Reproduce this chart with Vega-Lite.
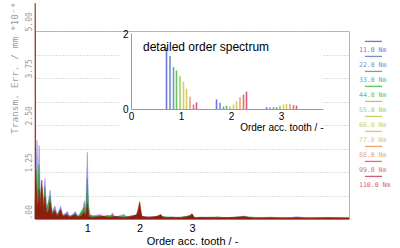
{
  "$schema": "https://vega.github.io/schema/vega-lite/v6.json",
  "width": 314,
  "height": 188,
  "autosize": {"type": "none"},
  "padding": {"left": 35, "top": 31, "right": 51, "bottom": 29},
  "background": "white",
  "config": {
    "view": {"stroke": "#b4b4b4", "strokeWidth": 1},
    "axis": {"labelFont": "Liberation Sans", "titleFont": "Liberation Sans"}
  },
  "datasets": {
    "spectrum": [
      {"s":"p","o":0,"v":0.3},{"s":"p","o":0.02,"v":1.2},{"s":"p","o":0.04,"v":2.09},{"s":"p","o":0.055,"v":0.7},{"s":"p","o":0.08,"v":1.96},{"s":"p","o":0.1,"v":0.6},{"s":"p","o":0.13,"v":0.9},{"s":"p","o":0.16,"v":0.45},{"s":"p","o":0.19,"v":1.08},{"s":"p","o":0.22,"v":0.3},{"s":"p","o":0.25,"v":0.4},{"s":"p","o":0.29,"v":0.77},{"s":"p","o":0.32,"v":0.2},{"s":"p","o":0.36,"v":0.3},{"s":"p","o":0.38,"v":0.35},{"s":"p","o":0.42,"v":0.12},{"s":"p","o":0.45,"v":0.2},{"s":"p","o":0.49,"v":0.34},{"s":"p","o":0.53,"v":0.1},{"s":"p","o":0.58,"v":0.15},{"s":"p","o":0.62,"v":0.2},{"s":"p","o":0.66,"v":0.08},{"s":"p","o":0.72,"v":0.12},{"s":"p","o":0.77,"v":0.2},{"s":"p","o":0.82,"v":0.08},{"s":"p","o":0.87,"v":0.1},{"s":"p","o":0.9,"v":0.12},{"s":"p","o":0.94,"v":0.48},{"s":"p","o":0.97,"v":0.3},{"s":"p","o":1.0,"v":1.77},{"s":"p","o":1.02,"v":0.4},{"s":"p","o":1.05,"v":0.12},{"s":"p","o":1.1,"v":0.08},{"s":"p","o":1.17,"v":0.1},{"s":"p","o":1.25,"v":0.12},{"s":"p","o":1.3,"v":0.05},{"s":"p","o":1.38,"v":0.1},{"s":"p","o":1.44,"v":0.06},{"s":"p","o":1.48,"v":0.16},{"s":"p","o":1.52,"v":0.05},{"s":"p","o":1.6,"v":0.08},{"s":"p","o":1.7,"v":0.12},{"s":"p","o":1.76,"v":0.05},{"s":"p","o":1.85,"v":0.1},{"s":"p","o":1.92,"v":0.08},{"s":"p","o":1.96,"v":0.2},{"s":"p","o":2.0,"v":0.3},{"s":"p","o":2.03,"v":0.1},{"s":"p","o":2.1,"v":0.04},{"s":"p","o":2.2,"v":0.07},{"s":"p","o":2.3,"v":0.05},{"s":"p","o":2.4,"v":0.1},{"s":"p","o":2.47,"v":0.03},{"s":"p","o":2.6,"v":0.06},{"s":"p","o":2.75,"v":0.04},{"s":"p","o":2.9,"v":0.07},{"s":"p","o":3.0,"v":0.12},{"s":"p","o":3.05,"v":0.04},{"s":"p","o":3.2,"v":0.05},{"s":"p","o":3.35,"v":0.03},{"s":"p","o":3.5,"v":0.06},{"s":"p","o":3.65,"v":0.03},{"s":"p","o":3.8,"v":0.04},{"s":"p","o":4.0,"v":0.08},{"s":"p","o":4.1,"v":0.03},{"s":"p","o":4.3,"v":0.04},{"s":"p","o":4.5,"v":0.05},{"s":"p","o":4.7,"v":0.03},{"s":"p","o":4.9,"v":0.04},{"s":"p","o":5.0,"v":0.06},{"s":"p","o":5.2,"v":0.03},{"s":"p","o":5.4,"v":0.04},{"s":"p","o":5.6,"v":0.03},{"s":"p","o":5.8,"v":0.04},{"s":"p","o":6.0,"v":0.03},
      {"s":"g","o":0,"v":0.3},{"s":"g","o":0.025,"v":1.3},{"s":"g","o":0.045,"v":0.6},{"s":"g","o":0.075,"v":1.45},{"s":"g","o":0.1,"v":0.5},{"s":"g","o":0.13,"v":0.8},{"s":"g","o":0.16,"v":0.35},{"s":"g","o":0.19,"v":0.85},{"s":"g","o":0.22,"v":0.25},{"s":"g","o":0.29,"v":0.62},{"s":"g","o":0.32,"v":0.15},{"s":"g","o":0.38,"v":0.25},{"s":"g","o":0.42,"v":0.1},{"s":"g","o":0.49,"v":0.26},{"s":"g","o":0.53,"v":0.08},{"s":"g","o":0.62,"v":0.12},{"s":"g","o":0.66,"v":0.06},{"s":"g","o":0.77,"v":0.14},{"s":"g","o":0.82,"v":0.06},{"s":"g","o":0.94,"v":0.32},{"s":"g","o":0.97,"v":0.15},{"s":"g","o":1.0,"v":1.08},{"s":"g","o":1.03,"v":0.1},{"s":"g","o":1.2,"v":0.06},{"s":"g","o":1.35,"v":0.08},{"s":"g","o":1.5,"v":0.1},{"s":"g","o":1.55,"v":0.04},{"s":"g","o":1.7,"v":0.07},{"s":"g","o":1.85,"v":0.06},{"s":"g","o":1.95,"v":0.12},{"s":"g","o":2.0,"v":0.28},{"s":"g","o":2.04,"v":0.06},{"s":"g","o":2.2,"v":0.04},{"s":"g","o":2.4,"v":0.08},{"s":"g","o":2.6,"v":0.04},{"s":"g","o":2.8,"v":0.05},{"s":"g","o":3.0,"v":0.1},{"s":"g","o":3.05,"v":0.04},{"s":"g","o":3.4,"v":0.05},{"s":"g","o":3.7,"v":0.03},{"s":"g","o":4.0,"v":0.06},{"s":"g","o":4.4,"v":0.03},{"s":"g","o":4.8,"v":0.04},{"s":"g","o":5.2,"v":0.03},{"s":"g","o":5.6,"v":0.04},{"s":"g","o":6.0,"v":0.03},
      {"s":"r","o":0,"v":5.74},{"s":"r","o":0.006,"v":5.74},{"s":"r","o":0.012,"v":1.2},{"s":"r","o":0.03,"v":0.7},{"s":"r","o":0.045,"v":0.35},{"s":"r","o":0.065,"v":0.5},{"s":"r","o":0.08,"v":0.8},{"s":"r","o":0.1,"v":0.3},{"s":"r","o":0.13,"v":1.03},{"s":"r","o":0.16,"v":0.22},{"s":"r","o":0.19,"v":0.6},{"s":"r","o":0.22,"v":0.16},{"s":"r","o":0.26,"v":0.22},{"s":"r","o":0.29,"v":0.45},{"s":"r","o":0.33,"v":0.12},{"s":"r","o":0.38,"v":0.22},{"s":"r","o":0.42,"v":0.08},{"s":"r","o":0.46,"v":0.15},{"s":"r","o":0.49,"v":0.25},{"s":"r","o":0.53,"v":0.07},{"s":"r","o":0.6,"v":0.12},{"s":"r","o":0.66,"v":0.05},{"s":"r","o":0.72,"v":0.08},{"s":"r","o":0.77,"v":0.12},{"s":"r","o":0.82,"v":0.05},{"s":"r","o":0.88,"v":0.08},{"s":"r","o":0.94,"v":0.18},{"s":"r","o":0.97,"v":0.08},{"s":"r","o":1.0,"v":0.42},{"s":"r","o":1.03,"v":0.06},{"s":"r","o":1.1,"v":0.04},{"s":"r","o":1.2,"v":0.06},{"s":"r","o":1.3,"v":0.08},{"s":"r","o":1.4,"v":0.04},{"s":"r","o":1.55,"v":0.07},{"s":"r","o":1.7,"v":0.03},{"s":"r","o":1.85,"v":0.07},{"s":"r","o":1.95,"v":0.12},{"s":"r","o":2.0,"v":0.46},{"s":"r","o":2.04,"v":0.07},{"s":"r","o":2.2,"v":0.04},{"s":"r","o":2.35,"v":0.08},{"s":"r","o":2.4,"v":0.12},{"s":"r","o":2.45,"v":0.03},{"s":"r","o":2.6,"v":0.04},{"s":"r","o":2.8,"v":0.03},{"s":"r","o":2.95,"v":0.07},{"s":"r","o":3.0,"v":0.14},{"s":"r","o":3.05,"v":0.03},{"s":"r","o":3.2,"v":0.04},{"s":"r","o":3.5,"v":0.03},{"s":"r","o":3.7,"v":0.04},{"s":"r","o":4.0,"v":0.06},{"s":"r","o":4.2,"v":0.02},{"s":"r","o":4.5,"v":0.03},{"s":"r","o":4.8,"v":0.02},{"s":"r","o":5.0,"v":0.03},{"s":"r","o":5.3,"v":0.02},{"s":"r","o":5.6,"v":0.03},{"s":"r","o":6.0,"v":0.02}
    ],
    "orders": [
      {"t":"11.0 Nm","o":0.71,"v":1.65},{"t":"22.0 Nm","o":0.78,"v":1.43},{"t":"33.0 Nm","o":0.85,"v":1.13},{"t":"44.0 Nm","o":0.91,"v":1.04},{"t":"55.0 Nm","o":0.98,"v":0.9},{"t":"66.0 Nm","o":1.05,"v":0.74},{"t":"77.0 Nm","o":1.11,"v":0.55},{"t":"88.0 Nm","o":1.18,"v":0.33},{"t":"99.0 Nm","o":1.25,"v":0.12},{"t":"110.0 Nm","o":1.31,"v":0.18},
      {"t":"11.0 Nm","o":1.71,"v":0.26},{"t":"22.0 Nm","o":1.78,"v":0.17},{"t":"33.0 Nm","o":1.85,"v":0.07},{"t":"44.0 Nm","o":1.91,"v":0.09},{"t":"55.0 Nm","o":1.98,"v":0.07},{"t":"66.0 Nm","o":2.05,"v":0.12},{"t":"77.0 Nm","o":2.11,"v":0.21},{"t":"88.0 Nm","o":2.18,"v":0.32},{"t":"99.0 Nm","o":2.25,"v":0.39},{"t":"110.0 Nm","o":2.31,"v":0.47},
      {"t":"11.0 Nm","o":2.71,"v":0.05},{"t":"22.0 Nm","o":2.78,"v":0.04},{"t":"33.0 Nm","o":2.85,"v":0.05},{"t":"44.0 Nm","o":2.91,"v":0.05},{"t":"55.0 Nm","o":2.98,"v":0.09},{"t":"66.0 Nm","o":3.05,"v":0.12},{"t":"77.0 Nm","o":3.11,"v":0.14},{"t":"88.0 Nm","o":3.18,"v":0.14},{"t":"99.0 Nm","o":3.25,"v":0.11},{"t":"110.0 Nm","o":3.31,"v":0.09}
    ]
  },
  "layer": [
    {
      "data": {"name": "spectrum"},
      "encoding": {
        "x": {
          "field": "o", "type": "quantitative",
          "scale": {"domain": [0, 6], "nice": false, "zero": false},
          "axis": {
            "values": [1, 2, 3], "format": "d", "domain": false, "ticks": false, "grid": false,
            "labelFontSize": 11, "labelColor": "black", "labelPadding": 3,
            "title": "Order acc. tooth / -", "titleFontSize": 11, "titleFontWeight": "normal",
            "titleColor": "black", "titlePadding": 2
          }
        },
        "y": {
          "field": "v", "type": "quantitative",
          "scale": {"domain": [0, 5], "nice": false},
          "axis": {
            "values": [0, 0.625, 1.25, 1.875, 2.5, 3.125, 3.75, 4.375, 5],
            "labelExpr": "datum.value == 0 ? '.00' : (datum.value % 1.25 == 0 ? format(datum.value, '.2f') : '')",
            "domain": false, "ticks": false, "grid": true, "gridColor": "#bdbdbd", "gridDash": [1, 2],
            "labelAngle": 270, "labelAlign": "left", "labelBaseline": "bottom", "labelPadding": 2,
            "labelFont": "DejaVu Sans Mono", "labelFontSize": 8, "labelColor": "#9a9a9a",
            "title": "Transm. Err. / mm     *10⁻⁴", "titleFont": "DejaVu Sans Mono", "titleFontSize": 9.5,
            "titleFontWeight": "normal", "titleColor": "#9a9a9a", "titleAngle": 270,
            "titleAnchor": "end", "titleAlign": "right", "titleBaseline": "middle",
            "titleX": -21, "titleY": -29, "zindex": 0
          }
        }
      },
      "layer": [
        {"transform": [{"filter": "datum.s == 'p'"}], "mark": {"type": "area", "color": "#8e86ea", "stroke": "#8e86ea", "strokeWidth": 0.5, "clip": false}},
        {"transform": [{"filter": "datum.s == 'g'"}], "mark": {"type": "area", "color": "#3f9a46", "stroke": "#3f9a46", "strokeWidth": 0.5, "clip": false}},
        {"transform": [{"filter": "datum.s == 'r'"}], "mark": {"type": "area", "color": "#8a1f0e", "stroke": "#a8200e", "strokeWidth": 0.6, "clip": false}}
      ]
    },
    {
      "layer": [
        {
          "data": {"values": [{"x0": -0.22, "x1": 3.84, "y0": -0.57, "y1": 2.05}]},
          "mark": {"type": "rect", "fill": "white", "clip": false},
          "encoding": {
            "x": {"field": "x0", "type": "quantitative", "scale": {"domain": [0, 3.84], "range": [96, 288], "nice": false, "zero": false}},
            "x2": {"field": "x1"},
            "y": {"field": "y0", "type": "quantitative", "scale": {"domain": [0, 2.05], "range": [78, 2], "nice": false}},
            "y2": {"field": "y1"}
          }
        },
        {
          "data": {"name": "orders"},
          "mark": {"type": "rule", "strokeWidth": 1.6},
          "encoding": {
            "x": {
              "field": "o", "type": "quantitative",
              "axis": {
                "orient": "bottom", "offset": -110, "values": [0, 1, 2, 3], "format": "d",
                "domain": true, "domainColor": "#9a9a9a", "ticks": false, "grid": false,
                "labelFontSize": 10, "labelColor": "black", "labelPadding": 2, "labelFlush": false,
                "title": "Order acc. tooth / -", "titleFontSize": 10, "titleFontWeight": "normal",
                "titleColor": "black", "titleAnchor": "end", "titlePadding": 1, "zindex": 1
              }
            },
            "y": {
              "field": "v", "type": "quantitative",
              "axis": {
                "orient": "left", "offset": -96, "values": [0, 1, 2], "format": "d",
                "domain": true, "domainColor": "#9a9a9a", "ticks": false, "grid": false,
                "labelFontSize": 10, "labelColor": "black", "labelPadding": 3, "labelFlush": false,
                "title": null, "zindex": 1
              }
            },
            "y2": {"datum": 0},
            "color": {
              "field": "t", "type": "nominal",
              "scale": {
                "domain": ["11.0 Nm","22.0 Nm","33.0 Nm","44.0 Nm","55.0 Nm","66.0 Nm","77.0 Nm","88.0 Nm","99.0 Nm","110.0 Nm"],
                "range": ["#6f74dc","#7190cc","#68a8a0","#66bf66","#a6cf66","#c9d465","#e0c766","#e6a676","#e27070","#d8587a"]
              },
              "legend": {
                "orient": "none", "legendX": 328, "legendY": 8, "title": null,
                "symbolType": "M-0.9,-0.85H0.9", "symbolSize": 361, "symbolStrokeWidth": 1.3,
                "labelFont": "DejaVu Sans Mono", "labelFontSize": 6.5,
                "labelColor": {"expr": "scale('color', datum.value)"},
                "labelOffset": -25, "rowPadding": 0
              }
            }
          }
        },
        {
          "data": {"values": [{"o": 0.24, "v": 1.67, "label": "detailed order spectrum"}]},
          "mark": {"type": "text", "align": "left", "baseline": "middle", "fontSize": 12, "font": "Liberation Sans", "color": "black"},
          "encoding": {
            "x": {"field": "o", "type": "quantitative"},
            "y": {"field": "v", "type": "quantitative"},
            "text": {"field": "label"}
          }
        }
      ]
    }
  ],
  "resolve": {
    "scale": {"x": "independent", "y": "independent"},
    "axis": {"x": "independent", "y": "independent"}
  }
}
